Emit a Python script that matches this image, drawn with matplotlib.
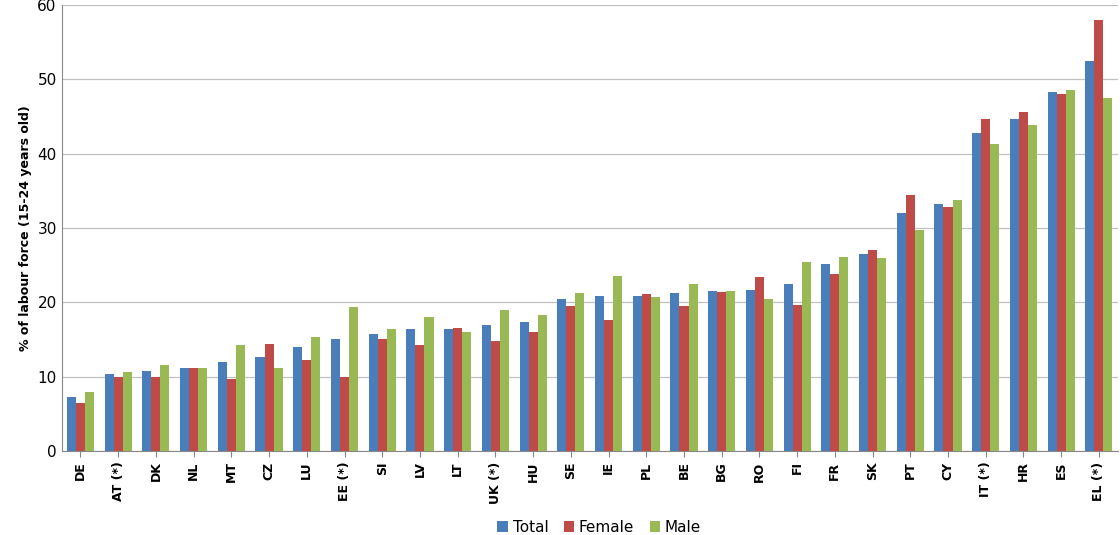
import numpy as np
import matplotlib
matplotlib.use('Agg')
from matplotlib import pyplot as plt

countries = ['DE', 'AT (*)', 'DK', 'NL', 'MT', 'CZ', 'LU', 'EE (*)', 'SI', 'LV', 'LT', 'UK (*)',
             'HU', 'SE', 'IE', 'PL', 'BE', 'BG', 'RO', 'FI', 'FR', 'SK', 'PT', 'CY', 'IT (*)',
             'HR', 'ES', 'EL (*)']
total = [7.3, 10.3, 10.7, 11.2, 12.0, 12.6, 14.0, 15.0, 15.7, 16.4, 16.4, 17.0, 17.3, 20.5,
         20.9, 20.9, 21.2, 21.5, 21.6, 22.4, 25.1, 26.5, 32.0, 33.2, 42.8, 44.6, 48.3, 52.4]
female = [6.5, 9.9, 9.9, 11.1, 9.7, 14.4, 12.3, 10.0, 15.0, 14.2, 16.6, 14.8, 16.0, 19.5,
          17.6, 21.1, 19.5, 21.4, 23.4, 19.7, 23.8, 27.0, 34.4, 32.8, 44.7, 45.6, 48.0, 58.0]
male = [8.0, 10.6, 11.5, 11.2, 14.2, 11.2, 15.3, 19.3, 16.4, 18.0, 16.0, 18.9, 18.3, 21.3,
        23.6, 20.7, 22.4, 21.5, 20.5, 25.4, 26.1, 26.0, 29.7, 33.8, 41.3, 43.8, 48.5, 47.5]

fig = plt.figure(figsize=(11.2, 5.35), dpi=100)
ax = fig.add_axes([0.055, 0.157, 0.943, 0.834])
x = np.arange(len(countries))
w = 0.24
ax.bar(x - w, total, w, color='#4a7ebb', label='Total', zorder=3)
ax.bar(x, female, w, color='#be4b48', label='Female', zorder=3)
ax.bar(x + w, male, w, color='#98b954', label='Male', zorder=3)

ax.set_xlim(-0.5, len(countries) - 0.5)
ax.set_ylim(0, 60)
ax.set_yticks(range(0, 61, 10))
ax.yaxis.grid(True, color='#c0c0c0', lw=0.9, zorder=0)
ax.set_xticks(x)
ax.set_xticklabels(countries, rotation=90, fontweight='bold', fontsize=9)
ax.tick_params(axis='y', labelsize=11, length=0)
ax.tick_params(axis='x', length=4, color='#888888')
for s in ['top', 'right']:
    ax.spines[s].set_visible(False)
ax.spines['left'].set_color('#888888')
ax.spines['bottom'].set_color('#888888')
ax.set_ylabel('% of labour force (15-24 years old)', fontweight='bold', fontsize=9)
fig.legend(loc='lower center', ncol=3, frameon=False, fontsize=11, handlelength=0.7,
           handleheight=0.7, columnspacing=1.0, handletextpad=0.3, bbox_to_anchor=(0.535, -0.025))
fig.savefig('out.png', dpi=100)
